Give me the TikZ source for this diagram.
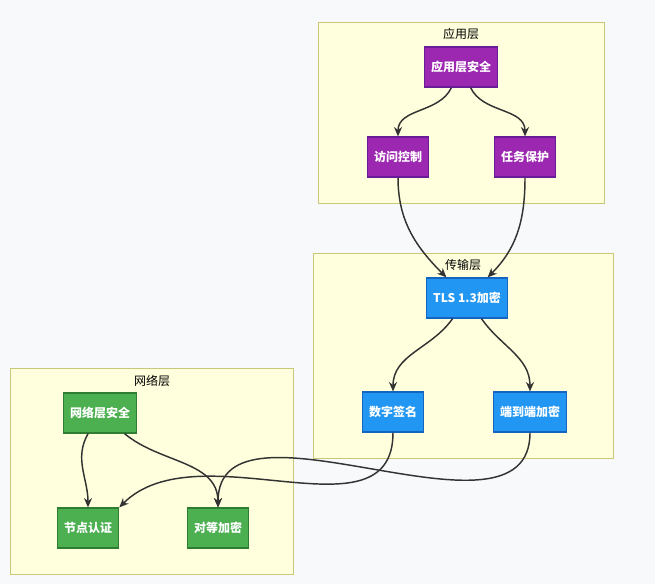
\documentclass[tikz,border=0pt]{standalone}
\usepackage{fontspec}
\setmainfont{Noto Sans CJK SC}
\usetikzlibrary{positioning,arrows.meta}
\definecolor{bgc}{HTML}{F8F9FA}
\definecolor{clfill}{HTML}{FFFFDE}
\definecolor{cldraw}{HTML}{C8C878}
\definecolor{appf}{HTML}{9C27B0}
\definecolor{appd}{HTML}{6A1B9A}
\definecolor{trf}{HTML}{2196F3}
\definecolor{trd}{HTML}{1565C0}
\definecolor{netf}{HTML}{4CAF50}
\definecolor{netd}{HTML}{2E7D32}
\definecolor{edge}{HTML}{333333}
\begin{document}
\begin{tikzpicture}[x=0.75pt,y=-0.75pt,
    cluster/.style={draw=cldraw, fill=clfill, line width=0.6pt},
    title/.style={font=\small, text=black},
    box/.style={rectangle, draw, line width=0.9pt, minimum height=30pt, inner xsep=5pt, font=\small\bfseries, text=white},
    app/.style={box, fill=appf, draw=appd},
    trans/.style={box, fill=trf, draw=trd},
    net/.style={box, fill=netf, draw=netd},
    arrow/.style={-{Stealth[length=7pt,width=6pt]}, draw=edge, line width=1.1pt}
]
\fill[bgc] (0,0) rectangle (655,584);

% clusters
\draw[cluster] (318,22) rectangle (604,203);
\draw[cluster] (313,253) rectangle (613,458);
\draw[cluster] (10,368) rectangle (293,574);
\node[title] (tapp) at (461,34) {应用层};
\node[title] (ttr) at (463,265) {传输层};
\node[title] (tnet) at (152,381) {网络层};

% application layer
\node[app] (appsec) at (461,67) {应用层安全};
\node[app] (access) at (398,157) {访问控制};
\node[app] (task) at (525,157) {任务保护};

% transport layer
\node[trans] (tls) at (467,298) {TLS 1.3加密};
\node[trans] (sign) at (393,412) {数字签名};
\node[trans] (e2e) at (530,412) {端到端加密};

% network layer
\node[net] (netsec) at (100,413) {网络层安全};
\node[net] (auth) at (88,528) {节点认证};
\node[net] (peer) at (218,528) {对等加密};

% arrows
\draw[arrow] (appsec) to[out=-115, in=90] (access);
\draw[arrow] (appsec) to[out=-65, in=90] (task);
\draw[arrow] (access) to[out=-90, in=135] (tls);
\draw[arrow] (task) to[out=-90, in=45] (tls);
\draw[arrow] (tls) to[out=-125, in=90] (sign);
\draw[arrow] (tls) to[out=-55, in=90] (e2e);
\draw[arrow] (netsec) to[out=-120, in=90] (auth);
\draw[arrow] (netsec) to[out=-40, in=90] (peer);
\draw[arrow] (sign.south) to[out=-90, in=45] (auth.north east);
\draw[arrow] (e2e.south) to[out=-90, in=90] (peer.north);
\end{tikzpicture}
\end{document}
